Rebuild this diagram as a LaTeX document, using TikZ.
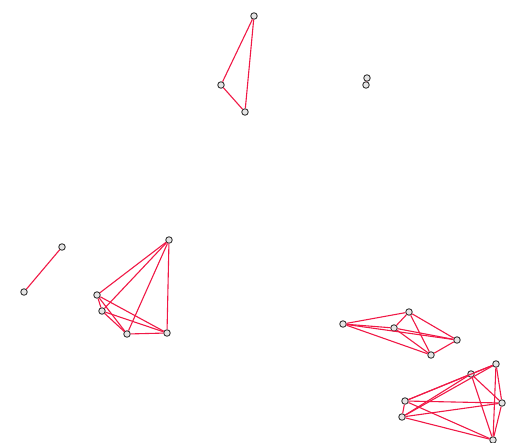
\documentclass[tikz,border=0pt]{standalone}
\usepackage{tikz}
\usetikzlibrary{positioning}
\definecolor{edgecol}{RGB}{240,25,70}
\definecolor{vertcol}{RGB}{55,55,55}

\begin{document}
\begin{tikzpicture}[x=1pt,y=-1pt,
    vert/.style={circle,draw=vertcol,fill=white!80!gray,line width=0.9pt,inner sep=0pt,minimum size=6.5pt},
    link/.style={edgecol,line width=1.1pt}]
  \useasboundingbox (0,0) rectangle (530,442);
  % top triangle
  \node[vert] (a1) at (254,16) {};
  \node[vert] (a2) at (221,85) {};
  \node[vert] (a3) at (245,112) {};
  % overlapping pair
  \node[vert] (b1) at (367,78) {};
  \node[vert] (b2) at (366,85) {};
  % single edge
  \node[vert] (c1) at (62,247) {};
  \node[vert] (c2) at (24,292) {};
  % left group
  \node[vert] (d1) at (169,240) {};
  \node[vert] (d2) at (97,295) {};
  \node[vert] (d3) at (102,311) {};
  \node[vert] (d4) at (127,334) {};
  \node[vert] (d5) at (167,333) {};
  % middle right group
  \node[vert] (e1) at (343,324) {};
  \node[vert] (e2) at (409,312) {};
  \node[vert] (e3) at (394,328) {};
  \node[vert] (e4) at (457,340) {};
  \node[vert] (e5) at (431,355) {};
  % bottom right group
  \node[vert] (f1) at (496,364) {};
  \node[vert] (f2) at (471,374) {};
  \node[vert] (f3) at (405,401) {};
  \node[vert] (f4) at (402,417) {};
  \node[vert] (f5) at (502,403) {};
  \node[vert] (f6) at (493,440) {};

  \foreach \u/\v in {a1/a2,a1/a3,a2/a3,b1/b2,c1/c2,
      d1/d2,d1/d3,d1/d4,d1/d5,d2/d3,d2/d4,d2/d5,d3/d4,d3/d5,d4/d5,
      e1/e2,e1/e3,e1/e4,e1/e5,e2/e3,e2/e4,e2/e5,e3/e4,e3/e5,e4/e5,
      f1/f2,f1/f3,f1/f4,f1/f5,f1/f6,f2/f3,f2/f4,f2/f5,f2/f6,
      f3/f4,f3/f5,f3/f6,f4/f5,f4/f6,f5/f6}
    \draw[link] (\u) -- (\v);
\end{tikzpicture}
\end{document}
